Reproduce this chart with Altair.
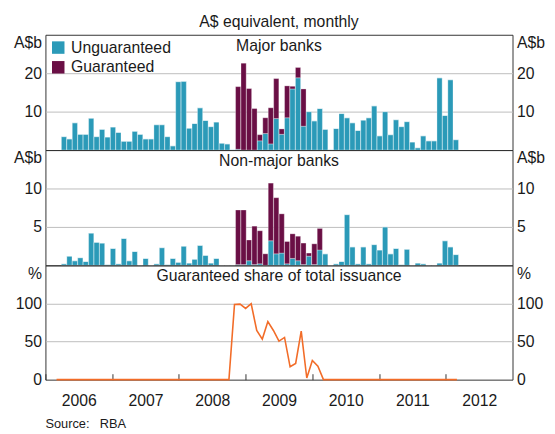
import altair as alt
import pandas as pd

# ---------------- data (monthly, March 2006 .. March 2012) ----------------
first_month = "2006-03"
series_names = ["Unguaranteed", "Guaranteed"]
panel_titles = ["Major banks", "Non-major banks", "Guaranteed share of total issuance"]
year_ticks = [2006, 2007, 2008, 2009, 2010, 2011, 2012]

major_unguaranteed = [
    3.5, 2.9, 7.1, 4.1, 4.1, 8.3, 3.5, 5.4, 3.4, 6.0, 4.6, 2.3, 2.3, 4.9, 4.1, 2.9, 2.9,
    6.6, 6.6, 3.5, 1.1, 17.8, 17.9, 5.7, 6.9, 11.0, 7.7, 6.1, 7.3, 1.8, 1.6, 0.1,
    0.2, 0, 0, 0, 2.4, 4.3, 1.6, 8.2, 4.1, 8.4, 15.9, 18.8, 6.2,
    10.0, 7.6, 10.8, 5.4, 0.1, 5.6, 9.5, 8.4, 7.1, 5.1, 7.8, 8.4, 11.5, 3.7, 10.0, 4.0,
    7.9, 6.1, 7.4, 2.1, 0.6, 3.7, 2.4, 2.4, 18.8, 9.0, 18.3, 2.7,
]
major_guaranteed = [0] * 32 + [
    16.3, 22.6, 16.0, 10.8, 1.6, 4.1, 9.4, 10.4, 1.4, 8.3, 0.7, 2.7, 9.7,
] + [0] * 28

nonmajor_unguaranteed = [
    0.2, 1.2, 0.6, 1.0, 0.5, 4.2, 3.0, 2.9, 0.1, 2.2, 0.2, 3.5, 0.6, 1.8, 0, 0.9, 0,
    0.2, 2.3, 0.1, 0.9, 0.4, 2.5, 0.3, 0.8, 2.6, 1.3, 0.3, 0.9, 0, 0, 0,
    0.1, 0.1, 0.6, 0.1, 0.2, 0, 3.2, 1.5, 1.6, 0.2, 0.9, 0.6, 0.1,
    1.2, 0.1, 2.0, 1.5, 0, 0.2, 0.5, 6.6, 2.4, 0.2, 2.4, 0.2, 2.7, 2.0, 5.0, 1.5,
    2.2, 0.1, 2.1, 0, 0.3, 0.2, 0, 0, 0.3, 3.2, 2.4, 1.4,
]
nonmajor_guaranteed = [0] * 32 + [
    7.1, 7.1, 2.7, 5.0, 4.3, 1.5, 7.5, 7.3, 5.1, 2.9, 3.2, 3.2, 2.8, 0.4, 2.7, 2.8,
] + [0] * 25

guaranteed_share = [0] * 32 + [
    98.7, 99.1, 93.5, 99.6, 64.5, 53.2, 76.2, 64.5, 50.6, 55.4, 16.9, 21.2, 63.6,
    2.2, 25.1, 17.7,
] + [0] * 25

# ---------------- styling ----------------
FONT = "Liberation Sans"
TXT = "#1a1a1a"
TEAL = "#2B9AB8"
MAROON = "#6A0F45"
ORANGE = "#F26C28"
GRID = "#BDBDBD"
W = 474
H1, H2, H3 = 117, 117, 116
BAR_W = W / 84 - 0.4

periods = pd.period_range(first_month, periods=len(guaranteed_share), freq="M")
xs = [p.year + (p.month - 1) / 12 for p in periods]      # month start
xm = [v + 1 / 24 for v in xs]                             # month middle


def long_frame(ung, gua):
    rows = []
    for i in range(len(xs)):
        rows.append({"xm": xm[i], "value": ung[i], "series": series_names[0], "ord": 0})
        rows.append({"xm": xm[i], "value": gua[i], "series": series_names[1], "ord": 1})
    return pd.DataFrame(rows)


major_df = long_frame(major_unguaranteed, major_guaranteed)
nonmajor_df = long_frame(nonmajor_unguaranteed, nonmajor_guaranteed)
share_df = pd.DataFrame({"xs": xs, "share": guaranteed_share})

xscale = alt.Scale(domain=[2006, 2013], nice=False, zero=False)


def yaxis(vals, top, unit, orient, grid):
    return alt.Axis(
        orient=orient, values=vals, title=None, ticks=False, domain=False,
        grid=grid, gridColor=GRID, gridWidth=1,
        gridOpacity={"condition": {"test": f"datum.value == {top} || datum.value == 0", "value": 0}, "value": 1},
        labelExpr=f"datum.value == {top} ? '{unit}' : datum.label",
        labelBaseline={"condition": {"test": f"datum.value == {top}", "value": "top"}, "value": "middle"},
        labelFont=FONT, labelFontSize=16, labelColor=TXT, labelPadding=4,
        labelFlush=False, labelOverlap=False,
    )


def title_layer(text):
    return alt.Chart(pd.DataFrame({"t": [text]})).mark_text(
        font=FONT, fontSize=16, color=TXT, align="center", baseline="middle"
    ).encode(x=alt.value(W / 2), y=alt.value(11), text="t:N")


def bar_panel(df, ymax, step, unit, title, height, show_legend):
    yscale = alt.Scale(domain=[0, ymax], nice=False, zero=True)
    vals = [step, 2 * step, ymax]
    legend = alt.Legend(
        orient="top-left", title=None, offset=5, padding=0, symbolType="square",
        symbolSize=160, symbolStrokeWidth=0, labelFont=FONT, labelFontSize=16,
        labelColor=TXT, rowPadding=4, labelOffset=5,
    ) if show_legend else None
    bars = alt.Chart(df).mark_bar(
        width=BAR_W, stroke="white", strokeWidth=0.5, strokeOpacity=0.6
    ).encode(
        x=alt.X("xm:Q", scale=xscale, axis=None),
        y=alt.Y("value:Q", stack="zero", scale=yscale, axis=yaxis(vals, ymax, unit, "left", True)),
        color=alt.Color("series:N", scale=alt.Scale(domain=series_names, range=[TEAL, MAROON]), legend=legend),
        order=alt.Order("ord:Q"),
    )
    right = alt.Chart(df).mark_point(opacity=0).encode(
        x=alt.X("xm:Q", scale=xscale, axis=None),
        y=alt.Y("value:Q", scale=yscale, axis=yaxis(vals, ymax, unit, "right", False)),
    )
    return alt.layer(bars, title_layer(title), right).resolve_scale(y="independent").properties(
        width=W, height=height
    )


top = bar_panel(major_df, 30, 10, "A$b", panel_titles[0], H1, True)
mid = bar_panel(nonmajor_df, 15, 5, "A$b", panel_titles[1], H2, False)

share_scale = alt.Scale(domain=[0, 150], nice=False, zero=True)
share_vals = [0, 50, 100, 150]
xaxis = alt.Axis(
    orient="bottom", values=year_ticks, format="d", title=None, domain=False, grid=False,
    ticks=True, tickSize=6, tickColor="#333333", offset=-6, labelOffset=W / 14,
    labelPadding=13, labelFont=FONT, labelFontSize=16, labelColor=TXT,
    labelFlush=False, labelOverlap=False, labelBound=False,
)
line = alt.Chart(share_df).mark_line(color=ORANGE, strokeWidth=1.6).encode(
    x=alt.X("xs:Q", scale=xscale, axis=xaxis),
    y=alt.Y("share:Q", scale=share_scale, axis=yaxis(share_vals, 150, "%", "left", True)),
)
line_right = alt.Chart(share_df).mark_point(opacity=0).encode(
    x=alt.X("xs:Q", scale=xscale),
    y=alt.Y("share:Q", scale=share_scale, axis=yaxis(share_vals, 150, "%", "right", False)),
)
source_lbl = alt.Chart(pd.DataFrame({"t": ["Source:"]})).mark_text(
    font=FONT, fontSize=13, color=TXT, align="left", baseline="top"
).encode(x=alt.value(0), y=alt.value(H3 + 39), text="t:N")
source_val = alt.Chart(pd.DataFrame({"t": ["RBA"]})).mark_text(
    font=FONT, fontSize=13, color=TXT, align="left", baseline="top"
).encode(x=alt.value(55), y=alt.value(H3 + 39), text="t:N")

bot = alt.layer(line, title_layer(panel_titles[2]), source_lbl, source_val, line_right).resolve_scale(
    y="independent"
).properties(width=W, height=H3)

chart = alt.vconcat(top, mid, bot, spacing=0, bounds="flush").resolve_scale(
    color="independent"
).properties(
    title=alt.TitleParams(
        "Australian Banks' Bond Issuance", subtitle="A$ equivalent, monthly",
        font=FONT, fontSize=20, fontWeight="bold", color=TXT,
        subtitleFont=FONT, subtitleFontSize=16, subtitleColor=TXT,
        anchor="middle", offset=4, subtitlePadding=4,
    ),
    padding={"top": -21, "left": 5, "right": 2, "bottom": 0},
).configure_view(stroke="#333333", strokeWidth=1)

chart.save("out.html", embed_options={"renderer": "svg", "actions": False})
